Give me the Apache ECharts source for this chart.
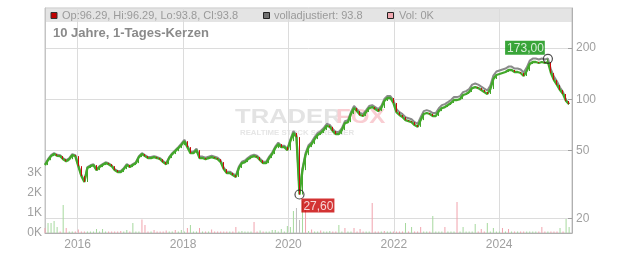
<!DOCTYPE html>
<html><head><meta charset="utf-8">
<script src="https://cdn.jsdelivr.net/npm/echarts@6/dist/echarts.min.js"></script>
<style>html,body{margin:0;padding:0;background:#fff}#c{width:632px;height:253px}</style>
</head><body><div id="c"></div>
<script>
// ---- data ----
const startDate = [2015, 4, 20];
const endDate = [2025, 4, 20];
const stepDays = 21;
const closes = [
41.1,43.9,46.4,47.7,46.6,46.4,44.5,43.3,44.5,47.0,
46.4,40.5,35.5,32.7,39.5,40.5,41.1,38.4,40.0,41.1,
42.2,41.6,40.5,38.4,37.4,37.4,38.9,41.1,40.0,41.1,
42.2,45.8,47.7,46.4,45.2,45.2,45.8,45.2,44.5,42.8,
41.6,45.2,47.7,49.6,51.7,53.8,56.8,52.4,48.3,48.3,
50.3,45.2,45.2,44.5,45.2,45.8,45.2,44.5,42.8,38.9,
36.9,36.9,35.9,35.0,39.5,42.2,42.8,44.5,45.8,46.4,
45.8,43.9,42.2,42.2,45.2,47.7,51.7,54.6,52.4,52.4,
50.3,56.8,63.4,60.0,27.6,38.4,47.0,52.4,54.6,58.4,
61.7,63.4,66.0,70.0,68.9,65.1,62.5,62.5,66.0,72.5,
73.5,82.0,88.9,85.3,80.9,79.8,84.2,88.9,90.1,87.7,
85.3,88.9,97.8,101.8,101.8,95.2,84.2,80.9,78.7,75.5,
74.5,73.5,70.6,68.9,75.5,82.0,83.1,82.0,79.8,79.8,
85.3,88.9,90.1,92.6,95.2,99.1,99.1,100.4,106.0,107.5,
110.4,116.5,118.1,116.5,113.4,110.4,107.5,114.9,131.7,139.0,
140.9,142.8,144.7,148.7,148.7,144.7,144.7,142.8,137.1,146.7,
161.3,165.7,165.7,163.5,165.7,163.5,165.7,142.8,129.8,121.4,
113.4,107.5,97.8,93.8];
const adjusted = [
41.6,44.5,47.0,48.3,47.2,47.0,45.1,43.9,45.1,47.6,
47.0,41.0,36.0,33.1,40.0,41.0,41.6,38.9,40.5,41.6,
42.7,42.1,41.0,38.9,37.9,37.9,39.4,41.6,40.5,41.6,
42.7,46.4,48.3,47.0,45.8,45.8,46.4,45.8,45.1,43.4,
42.1,45.8,48.3,50.2,52.4,54.9,57.9,53.4,49.3,49.3,
51.3,46.1,46.1,45.4,46.1,46.7,46.1,45.4,43.7,39.7,
37.6,37.6,36.6,35.7,40.3,43.0,43.7,45.4,46.7,47.3,
46.7,44.8,43.0,43.0,46.1,48.7,52.7,55.7,53.4,53.4,
51.3,58.3,65.1,61.6,29.0,39.4,48.3,53.8,56.1,60.0,
63.4,65.1,67.8,71.9,70.8,66.9,64.2,64.2,67.8,74.5,
75.5,84.2,91.3,87.6,83.1,82.0,86.5,91.3,92.5,90.1,
87.6,91.3,100.4,104.5,104.5,99.0,87.6,84.1,81.8,78.5,
77.5,76.4,73.4,71.7,78.5,85.3,86.4,85.3,83.0,83.0,
88.7,92.5,93.7,96.3,99.0,103.1,103.1,104.4,110.2,111.8,
114.8,122.1,123.8,122.1,118.8,115.7,112.7,120.4,138.0,145.7,
147.7,149.7,151.6,155.8,155.8,151.6,151.6,149.7,143.7,153.7,
169.0,173.6,173.6,171.3,173.6,171.3,173.6,149.7,136.0,127.2,
117.4,110.2,99.0,93.8];
const volume = [
0.25,0.5,0.5,0.6,0.3,0.08,1.4,0.25,0.08,0.08,
0.08,0.17,0.08,0.08,0.08,0.08,0.08,0.2,0.08,0.2,
0.08,0.08,0.08,0.08,0.08,0.1,0.08,0.15,0.08,0.5,
0.08,0.08,0.67,0.4,0.08,0.08,0.15,0.08,0.08,0.08,
0.12,0.08,0.08,0.15,0.08,0.15,0.08,0.25,0.4,0.08,
0.08,0.25,0.08,0.08,0.08,0.18,0.08,0.08,0.08,0.08,
0.08,0.08,0.08,0.3,0.08,0.1,0.08,0.08,0.08,0.55,
0.08,0.12,0.08,0.08,0.08,0.15,0.15,0.08,0.2,0.08,
0.35,0.3,1.1,1.25,0.65,1.6,1.5,0.1,0.17,0.08,
0.08,0.12,0.08,0.08,0.1,0.08,0.08,0.4,0.08,0.25,
0.08,0.08,0.25,0.08,0.2,0.08,0.08,0.08,1.5,0.08,
0.08,0.08,0.1,0.08,0.08,0.08,0.08,0.08,0.08,0.5,
0.08,0.3,0.08,0.08,0.3,0.08,0.08,0.08,0.85,0.08,
0.08,0.08,0.3,0.08,0.08,0.08,1.55,0.08,0.3,0.08,
0.08,0.08,0.45,0.08,0.2,0.08,0.5,0.08,0.25,0.08,
0.08,0.25,0.08,0.2,0.08,0.08,0.08,0.08,0.08,0.08,
0.08,0.08,0.08,0.08,0.3,0.08,0.08,0.08,0.08,0.08,
0.25,0.08,0.7,0.3];
// g = up, r = down, n = neutral, . = follow the candle direction
const volType =
"rgggg.gr.." + ".r.....g.g" + ".....r.g.g" + "..rr..r..." + "r..r.g.rg." +
".r...r...." + "...r.g...r" + ".g...gg.g." + "gggnngr.r." + ".r..g..g.r" +
"..r.r...r." + "..r......g" + ".g..r...g." + "..r...r.g." + "..g.r.g.g." +
".r.r......" + "....r....." + "g.gg";
const extremes = [
  {idx: 166, value: 173.00, label: '173,00', kind: 'high'},
  {idx: 84, value: 27.60, label: '27,60', kind: 'low'}
];
const yearTicks = [2016, 2018, 2020, 2022, 2024];
const priceTicks = [20, 50, 100, 200];
const volTicks = [0, 1, 2, 3];
const legendText = {
  ohlc: 'Op:96.29, Hi:96.29, Lo:93.8, Cl:93.8',
  adj: 'volladjustiert: 93.8',
  vol: 'Vol: 0K'
};
const titleText = '10 Jahre, 1-Tages-Kerzen';

// ---- build ----
const DAY = 86400000;
const t0 = Date.UTC(startDate[0], startDate[1], startDate[2]);
const tEnd = Date.UTC(endDate[0], endDate[1], endDate[2]);
const dates = closes.map((_, i) => t0 + i * stepDays * DAY);
const yearTimes = yearTicks.map(y => Date.UTC(y, 0, 1));

const GREEN = '#42a82a', RED = '#c80c0c', GRAY = '#8a8a8a';
const FONT = '"Liberation Sans", Arial, sans-serif';

const candles = closes.map((c, i) => {
  const o = i ? closes[i - 1] : c;
  let lo = Math.min(o, c), hi = Math.max(o, c);
  extremes.forEach(e => { if (e.idx === i) { if (e.kind === 'high') hi = Math.max(hi, e.value); else lo = Math.min(lo, e.value); } });
  return [dates[i], o, c, lo, hi];
});
const volColors = {g: '#a6d99e', r: '#f1a3ad', n: '#bdbdbd'};
const volData = volume.map((v, i) => {
  let t = volType[i];
  if (t === '.') t = (i && closes[i] < closes[i - 1]) ? 'r' : 'g';
  return {value: [dates[i], v], itemStyle: {color: volColors[t]}};
});

const chart = echarts.init(document.getElementById('c'), null, {renderer: 'canvas'});
chart.setOption({
  animation: false,
  backgroundColor: '#fff',
  grid: {left: 45, right: 60, top: 8, bottom: 20, show: true, borderColor: '#c4c4c4', borderWidth: 1, backgroundColor: 'rgba(0,0,0,0)'},
  xAxis: {
    type: 'value', min: t0, max: tEnd, scale: true,
    axisLine: {show: true, lineStyle: {color: '#b0b0b0'}},
    axisTick: {show: false, customValues: yearTimes},
    axisLabel: {customValues: yearTimes, formatter: v => String(new Date(v).getUTCFullYear()), color: '#a0a0a0', fontSize: 12, fontFamily: FONT, margin: 6},
    splitLine: {show: true, lineStyle: {color: '#dcdcdc', width: 1}}
  },
  yAxis: [
    {
      type: 'log', logBase: 10, min: 16.4, max: 344, position: 'right',
      axisLine: {show: true, lineStyle: {color: '#b0b0b0'}},
      axisTick: {show: true, inside: true, length: 4, lineStyle: {color: '#a0a0a0'}, customValues: priceTicks},
      axisLabel: {customValues: priceTicks, formatter: v => String(Math.round(v)), color: '#a0a0a0', fontSize: 12, fontFamily: FONT, margin: 4},
      splitLine: {show: true, lineStyle: {color: '#dcdcdc', width: 1}}
    },
    {
      type: 'value', min: 0, max: 11.25, position: 'left',
      axisLine: {show: true, lineStyle: {color: '#c4c4c4'}},
      axisTick: {show: false, customValues: volTicks},
      axisLabel: {customValues: volTicks, formatter: v => v + 'K', color: '#a0a0a0', fontSize: 12, fontFamily: FONT, margin: 3},
      splitLine: {show: false}
    }
  ],
  graphic: [
    {type: 'rect', z: -10, shape: {x: 45.5, y: 8.5, width: 526.5, height: 13.5}, style: {fill: '#e4e4e4'}},
    {type: 'text', z: -9, x: 235, y: 107, scaleX: 1.28, style: {text: 'TRADER', font: 'bold 20px ' + FONT, fill: '#e3e3e3', verticalAlign: 'top'}},
    {type: 'text', z: -9, x: 336, y: 107, scaleX: 1.2, style: {text: 'FOX', font: 'bold 20px ' + FONT, fill: '#f9cdd2', verticalAlign: 'top'}},
    {type: 'text', z: -9, x: 240, y: 129.5, scaleX: 1.2, style: {text: 'REALTIME STOCK SCREENER', font: 'bold 6.5px ' + FONT, fill: '#e6e6e6', verticalAlign: 'top'}},
    {type: 'rect', z: 20, shape: {x: 51, y: 12.5, width: 6, height: 6}, style: {fill: '#c00000', stroke: '#333', lineWidth: 1}},
    {type: 'text', z: 20, x: 62, y: 15.5, style: {text: legendText.ohlc, font: '11px ' + FONT, fill: '#9a9a9a', verticalAlign: 'middle'}},
    {type: 'rect', z: 20, shape: {x: 263.5, y: 12.5, width: 6, height: 6}, style: {fill: '#707070', stroke: '#222', lineWidth: 1}},
    {type: 'text', z: 20, x: 274, y: 15.5, style: {text: legendText.adj, font: '11px ' + FONT, fill: '#9a9a9a', verticalAlign: 'middle'}},
    {type: 'rect', z: 20, shape: {x: 387.5, y: 12.5, width: 6, height: 6}, style: {fill: '#f0a8b0', stroke: '#222', lineWidth: 1}},
    {type: 'text', z: 20, x: 399, y: 15.5, style: {text: legendText.vol, font: '11px ' + FONT, fill: '#9a9a9a', verticalAlign: 'middle'}},
    {type: 'text', z: 20, x: 53, y: 33.5, style: {text: titleText, font: 'bold 13px ' + FONT, fill: '#8a8a8a', verticalAlign: 'middle'}}
  ],
  series: [
    {type: 'bar', name: 'Vol', yAxisIndex: 1, data: volData, barWidth: 1, z: 1, silent: true},
    {type: 'line', name: 'volladjustiert', data: adjusted.map((v, i) => [dates[i], v]), showSymbol: false, symbol: 'none', lineStyle: {color: GRAY, width: 2}, z: 2, silent: true},
    {type: 'line', name: 'Close', data: closes.map((v, i) => [dates[i], v]), showSymbol: false, symbol: 'none', lineStyle: {color: GREEN, width: 2.3}, z: 3, silent: true},
    {type: 'candlestick', name: 'Kurs', data: candles, encode: {x: 0, y: [1, 2, 3, 4]}, barWidth: 1.2,
      itemStyle: {color: GREEN, color0: RED, borderColor: GREEN, borderColor0: RED, borderWidth: 1}, z: 4, silent: true},
    {type: 'scatter', name: 'Extreme', symbol: 'circle', symbolSize: 9, z: 10, silent: true,
      itemStyle: {color: 'rgba(255,255,255,0)', borderColor: '#222', borderWidth: 1.2},
      data: extremes.map(e => ({
        value: [dates[e.idx], e.value],
        label: e.kind === 'high'
          ? {show: true, formatter: e.label, position: [2, 1], align: 'right', verticalAlign: 'bottom', backgroundColor: '#078f07', color: '#fff', padding: [2, 1, 0, 2], fontSize: 12, fontFamily: FONT}
          : {show: true, formatter: e.label, position: [7, 9], align: 'left', verticalAlign: 'top', backgroundColor: '#c80000', color: '#fff', padding: [2, 1, 0, 2], fontSize: 12, fontFamily: FONT}
      }))
    }
  ]
});
</script></body></html>
